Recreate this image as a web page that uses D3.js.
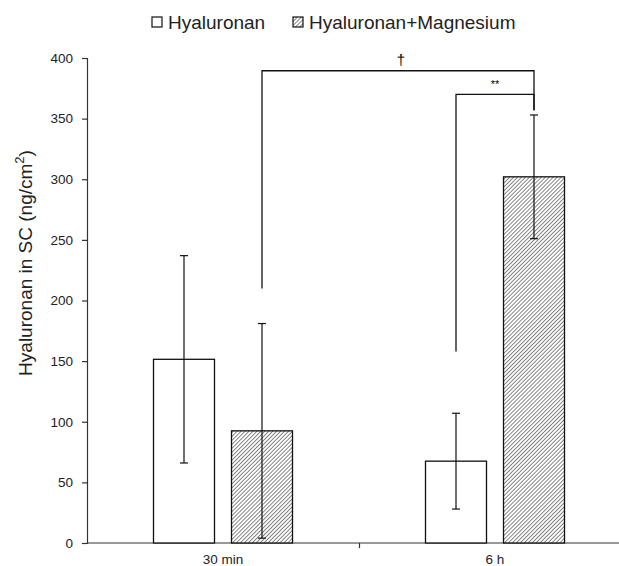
<!DOCTYPE html>
<html lang="en">
    <head>
        <meta charset="utf-8">
        <style type="text/css">
            body { margin: 0; background: #fff; }
            text { font-family: "Liberation Sans", Arial, sans-serif; fill: #222; }
            .axis path, .axis line { stroke: #333; stroke-width: 1.2px; }
            .err { stroke: #111; stroke-width: 1.2px; }
            .sig { stroke: #111; stroke-width: 1.3px; fill: none; }
            .sigtxt { fill: #000; }
        </style>
    </head>
    <body>
        <svg width="619" height="566"></svg>

        <script src="https://d3js.org/d3.v7.min.js"></script>
        <script>
            var categories = ["30 min", "6 h"];
            var seriesNames = ["Hyaluronan", "Hyaluronan+Magnesium"];
            var hyaluronan = [151.5, 67.5];
            var hyaluronanErr = [85.5, 39.5];
            var magnesium = [92.5, 302];
            var magnesiumErr = [88.5, 51];
            var yTicks = [0, 50, 100, 150, 200, 250, 300, 350, 400];

            // significance brackets between bars (group, series), with the level of the bar and the feet
            var brackets = [
                {g0: 0, s0: 1, g1: 1, s1: 1, top: 389.5, foot0: 210, foot1: 357, label: "\u2020"},
                {g0: 1, s0: 0, g1: 1, s1: 1, top: 370, foot0: 158, foot1: 357, label: "**"}
            ];

            var svg = d3.select("svg"),
                margin = {top: 58, left: 87, bottom: 23, right: -12},
                width = +svg.attr("width") - margin.left - margin.right,
                height = +svg.attr("height") - margin.top - margin.bottom;

            var defs = svg.append("defs");
            var pat = defs.append("pattern")
                .attr("id", "hatch")
                .attr("patternUnits", "userSpaceOnUse")
                .attr("width", 2.8)
                .attr("height", 2.8)
                .attr("patternTransform", "rotate(45)");
            pat.append("rect").attr("width", 2.8).attr("height", 2.8).attr("fill", "#fff");
            pat.append("line")
                .attr("x1", 0).attr("y1", 0).attr("x2", 0).attr("y2", 2.8)
                .attr("stroke", "#333").attr("stroke-width", 1.2);

            var g = svg.append("g").attr("transform", "translate(" + margin.left + "," + margin.top + ")");

            var x = d3.scaleBand().domain(categories).range([0, width]);
            var half = 69.5;
            var xs = d3.scaleBand().domain(seriesNames)
                .range([x.bandwidth() / 2 - half, x.bandwidth() / 2 + half])
                .paddingInner(17 / 78);
            var y = d3.scaleLinear().domain([0, 400]).range([height, 0]);

            var data = categories.map(function (c, i) {
                return [
                    {cat: c, s: seriesNames[0], v: hyaluronan[i], e: hyaluronanErr[i]},
                    {cat: c, s: seriesNames[1], v: magnesium[i], e: magnesiumErr[i]}
                ];
            });

            function barCenter(gi, si) {
                return x(categories[gi]) + xs(seriesNames[si]) + xs.bandwidth() / 2;
            }

            // axes
            g.append("g")
                .attr("class", "axis")
                .call(d3.axisLeft(y).tickValues(yTicks).tickSize(5).tickPadding(9))
                .call(function (a) { a.selectAll("text").style("font-size", "13.5px"); });

            g.append("g")
                .attr("class", "axis")
                .attr("transform", "translate(0," + height + ")")
                .call(d3.axisBottom(d3.scaleLinear().domain([0, 2]).range([0, width])).tickValues([1]).tickSize(5).tickFormat(""))
                .call(function (a) { a.select(".domain").attr("d", "M0,0H" + width); });

            g.selectAll(".xlabel")
                .data(categories)
                .enter()
                .append("text")
                .attr("x", function (d) { return x(d) + x.bandwidth() / 2; })
                .attr("y", height + 21)
                .attr("text-anchor", "middle")
                .style("font-size", "13.5px")
                .text(function (d) { return d; });

            // bars
            var grp = g.selectAll(".grp")
                .data(data)
                .enter()
                .append("g")
                .attr("transform", function (d) { return "translate(" + x(d[0].cat) + ",0)"; });

            grp.selectAll("rect")
                .data(function (d) { return d; })
                .enter()
                .append("rect")
                .attr("x", function (d) { return xs(d.s); })
                .attr("y", function (d) { return y(d.v); })
                .attr("width", xs.bandwidth())
                .attr("height", function (d) { return height - y(d.v); })
                .attr("fill", function (d, i) { return i === 0 ? "#fff" : "url(#hatch)"; })
                .attr("stroke", "#111")
                .attr("stroke-width", 1.3);

            // error bars
            var eb = grp.selectAll(".eb")
                .data(function (d) { return d; })
                .enter()
                .append("g")
                .attr("class", "err");
            eb.append("line")
                .attr("x1", function (d) { return xs(d.s) + xs.bandwidth() / 2; })
                .attr("x2", function (d) { return xs(d.s) + xs.bandwidth() / 2; })
                .attr("y1", function (d) { return y(d.v + d.e); })
                .attr("y2", function (d) { return y(d.v - d.e); });
            [1, -1].forEach(function (sgn) {
                eb.append("line")
                    .attr("x1", function (d) { return xs(d.s) + xs.bandwidth() / 2 - 4; })
                    .attr("x2", function (d) { return xs(d.s) + xs.bandwidth() / 2 + 4; })
                    .attr("y1", function (d) { return y(d.v + sgn * d.e); })
                    .attr("y2", function (d) { return y(d.v + sgn * d.e); });
            });

            // significance brackets
            brackets.forEach(function (b) {
                var xa = barCenter(b.g0, b.s0), xb = barCenter(b.g1, b.s1);
                g.append("path")
                    .attr("class", "sig")
                    .attr("d", "M" + xa + "," + y(b.foot0) + "V" + y(b.top) + "H" + xb + "V" + y(b.foot1));
                g.append("text")
                    .attr("class", "sigtxt")
                    .attr("x", (xa + xb) / 2 + (b.label === "**" ? 0 : 3))
                    .attr("y", y(b.top) - 6)
                    .attr("text-anchor", "middle")
                    .style("font-size", b.label === "**" ? "11px" : "15px")
                    .text(b.label);
            });

            // y label
            svg.append("text")
                .attr("transform", "translate(32,263) rotate(-90)")
                .attr("text-anchor", "middle")
                .style("font-size", "19px")
                .html('Hyaluronan in SC (ng/cm<tspan dy="-8" font-size="13px">2</tspan><tspan dy="8">)</tspan>');

            // legend
            var legendX = [152, 293];
            var legend = svg.selectAll(".legend")
                .data(seriesNames)
                .enter()
                .append("g")
                .attr("transform", function (d, i) { return "translate(" + legendX[i] + ",17)"; });
            legend.append("rect")
                .attr("width", 10)
                .attr("height", 10)
                .attr("fill", function (d, i) { return i === 0 ? "#fff" : "url(#hatch)"; })
                .attr("stroke", "#111")
                .attr("stroke-width", 1.2);
            legend.append("text")
                .attr("x", 16)
                .attr("y", 11.5)
                .style("font-size", "19px")
                .text(function (d) { return d; });
        </script>
    </body>
</html>
